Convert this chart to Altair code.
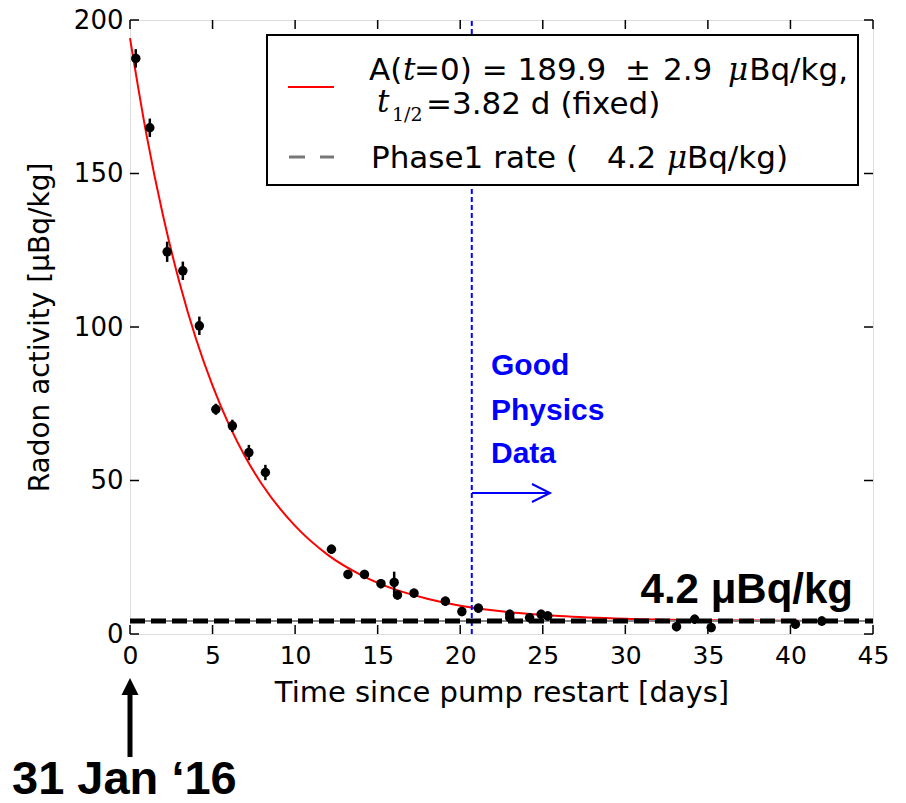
import altair as alt
import pandas as pd

# ---- data ----
days = [0.35, 1.2, 2.25, 3.2, 4.2, 5.2, 6.2, 7.2, 8.2, 12.2, 13.2, 14.2, 15.2, 16.0, 16.2,
        17.2, 19.1, 20.1, 21.1, 23.0, 23.0, 24.2, 24.9, 25.3, 33.1, 34.2, 35.2, 40.3, 41.9]
activity = [187.5, 164.9, 124.5, 118.3, 100.4, 73.2, 67.8, 59.1, 52.6, 27.6, 19.4, 19.4, 16.4, 16.8, 12.7,
            13.3, 10.7, 7.3, 8.4, 6.4, 5.3, 5.3, 6.4, 5.9, 2.4, 4.8, 2.1, 3.2, 4.2]
errors = [3.0, 3.0, 3.3, 3.0, 3.0, 1.8, 2.0, 2.5, 2.5, 1.5, 1.5, 1.5, 1.5, 3.5, 1.5,
          1.5, 1.5, 1.5, 1.5, 1.5, 1.5, 1.5, 1.5, 1.5, 1.5, 1.5, 1.5, 1.5, 1.5]

# fit curve
curve_t = [0, 1, 2, 3, 4, 5, 6, 7, 8, 10, 12, 14, 16, 18, 20, 23, 26, 30, 35, 40, 45]
curve_a = [194.1, 162.6, 136.3, 114.4, 96.1, 80.9, 68.1, 57.5, 48.7, 35.2, 25.7, 19.2, 14.6,
           11.5, 9.2, 7.1, 5.9, 5.0, 4.5, 4.3, 4.2]

x_ticks = [0, 5, 10, 15, 20, 25, 30, 35, 40, 45]
y_ticks = [0, 50, 100, 150, 200]
x_range = [0, 45]
phase1_rate = 4.2
good_start = 20.7

y_title = "Radon activity [μBq/kg]"
x_title = "Time since pump restart [days]"

# ---- chart ----
W, H = 743, 614
xs = alt.Scale(domain=x_range, nice=False, zero=False)
ys = alt.Scale(domain=[0, 200], nice=False)
FONT = "DejaVu Sans"
BOLD = "Liberation Sans"

pts = pd.DataFrame({"t": days, "a": activity,
                    "lo": [a - e for a, e in zip(activity, errors)],
                    "hi": [a + e for a, e in zip(activity, errors)]})
curve = pd.DataFrame({"t": curve_t, "a": curve_a})
hline = pd.DataFrame({"t": [x_range[0]], "t2": [x_range[1]], "a": [phase1_rate]})
vline = pd.DataFrame({"t": [good_start], "a": [0], "a2": [200]})
xt = pd.DataFrame({"t": x_ticks})
yt = pd.DataFrame({"a": y_ticks})
one = pd.DataFrame({"k": [0]})
zero = pd.DataFrame({"t": [0]})

xaxis = alt.Axis(values=x_ticks, ticks=False, domain=False, grid=False, labelFont=FONT,
                 labelFontSize=25, labelColor="black", labelPadding=9, labelFlush=False,
                 labelOverlap=False,
                 title=x_title, titleFont=FONT, titleFontSize=29, titleFontWeight="normal",
                 titleColor="black", titleBaseline="alphabetic", titleY=67)
yaxis = alt.Axis(values=y_ticks, ticks=False, domain=False, grid=False, labelFont=FONT,
                 labelFontSize=26, labelColor="black", labelPadding=7, labelFlush=False,
                 labelOverlap=False,
                 title=y_title, titleFont=FONT, titleFontSize=28, titleFontWeight="normal",
                 titleColor="black", titleX=-90, titleY=307, titleBaseline="middle",
                 titleAlign="center", titleAngle=270)

curve_layer = alt.Chart(curve).mark_line(color="red", strokeWidth=2, interpolate="monotone").encode(
    x=alt.X("t:Q", scale=xs, axis=xaxis), y=alt.Y("a:Q", scale=ys, axis=yaxis))

vline_layer = alt.Chart(vline).mark_rule(color="blue", strokeWidth=2, strokeDash=[5, 3]).encode(
    x=alt.X("t:Q", scale=xs), y=alt.Y("a:Q", scale=ys), y2="a2:Q")

hline_gray = alt.Chart(hline).mark_rule(color="#888888", strokeWidth=2).encode(
    x=alt.X("t:Q", scale=xs), x2="t2:Q", y=alt.Y("a:Q", scale=ys))
hline_black = alt.Chart(hline).mark_rule(color="black", strokeWidth=5, strokeDash=[15, 6]).encode(
    x=alt.X("t:Q", scale=xs), x2="t2:Q", y=alt.Y("a:Q", scale=ys))

err_layer = alt.Chart(pts).mark_rule(color="black", strokeWidth=2.5).encode(
    x=alt.X("t:Q", scale=xs), y=alt.Y("lo:Q", scale=ys), y2="hi:Q")
pt_layer = alt.Chart(pts).mark_circle(color="black", size=90, opacity=1).encode(
    x=alt.X("t:Q", scale=xs), y=alt.Y("a:Q", scale=ys))

TL = 9
tick_bottom = alt.Chart(xt).mark_rule(color="black", strokeWidth=1.5).encode(
    x=alt.X("t:Q", scale=xs), y=alt.value(H), y2=alt.value(H - TL))
tick_top = alt.Chart(xt).mark_rule(color="black", strokeWidth=1.5).encode(
    x=alt.X("t:Q", scale=xs), y=alt.value(0), y2=alt.value(TL))
tick_left = alt.Chart(yt).mark_rule(color="black", strokeWidth=1.5).encode(
    y=alt.Y("a:Q", scale=ys), x=alt.value(0), x2=alt.value(TL))
tick_right = alt.Chart(yt).mark_rule(color="black", strokeWidth=1.5).encode(
    y=alt.Y("a:Q", scale=ys), x=alt.value(W), x2=alt.value(W - TL))


def txt(s, x, y, size, font=FONT, weight="normal", color="black", align="left",
        baseline="alphabetic", style="normal"):
    return alt.Chart(one).mark_text(text=s, font=font, fontSize=size, fontWeight=weight,
                                    color=color, align=align, baseline=baseline,
                                    fontStyle=style).encode(x=alt.value(x), y=alt.value(y))


def seg(x1, x2, y1, y2, color, width, dash=None):
    kw = dict(color=color, strokeWidth=width)
    if dash:
        kw["strokeDash"] = dash
    return alt.Chart(one).mark_rule(**kw).encode(
        x=alt.value(x1), x2=alt.value(x2), y=alt.value(y1), y2=alt.value(y2))


# legend box (pixel positions relative to the plot area)
LF = 31
legend_box = alt.Chart(one).mark_rect(fill="white", stroke="black", strokeWidth=2).encode(
    x=alt.value(137), x2=alt.value(728), y=alt.value(15), y2=alt.value(165))
leg_red = seg(158, 204, 67, 67, "red", 2)
leg_g1 = seg(159, 175, 137, 137, "#777777", 3)
leg_g2 = seg(190, 204, 137, 137, "#777777", 3)
leg_1a = txt("A(", 239, 60, LF)
leg_1b = txt("t", 273, 60, LF, font="DejaVu Serif", style="italic")
leg_1c = txt("=0) = 189.9", 284, 60, LF)
leg_1d = txt("±", 508, 60, LF, align="center")
leg_1e = txt("2.9", 533, 60, LF)
leg_1f = txt("μ", 598, 60, LF, font="DejaVu Serif", style="italic")
leg_1g = txt("Bq/kg,", 718, 60, LF, align="right")
leg_2a = txt("t", 247, 92, LF, font="DejaVu Serif", style="italic")
leg_2b = txt("1/2", 262, 101, 19, font="DejaVu Serif")
leg_2c = txt("=3.82 d (fixed)", 296, 94, LF)
leg_3a = txt("Phase1 rate (", 241, 148, LF)
leg_3b = txt("4.2", 477, 148, LF)
leg_3c = txt("μ", 537, 148, LF, font="DejaVu Serif", style="italic")
leg_3d = txt("Bq/kg)", 658, 148, LF, align="right")

# annotations
GF = 30
good1 = txt("Good", 361, 355, GF, font=BOLD, weight="bold", color="blue")
good2 = txt("Physics", 361, 400, GF, font=BOLD, weight="bold", color="blue")
good3 = txt("Data", 361, 443, GF, font=BOLD, weight="bold", color="blue")
b_shaft = seg(342, 419, 473, 473, "blue", 2)
b_head = alt.Chart(one).mark_point(shape="M-1,-1L1,0L-1,1", size=324, filled=False,
                                   stroke="blue", strokeWidth=2, opacity=1).encode(
    x=alt.value(411), y=alt.value(473))
rate_txt = txt("4.2 μBq/kg", 723, 583, 42, font=BOLD, weight="bold", align="right")

date_shaft = alt.Chart(zero).mark_rule(color="black", strokeWidth=5).encode(
    x=alt.X("t:Q", scale=xs), y=alt.value(670), y2=alt.value(737))
date_head = alt.Chart(zero).mark_point(shape="M0,-1L1,1L-1,1Z", size=289, filled=True,
                                       color="black", opacity=1).encode(
    x=alt.X("t:Q", scale=xs), y=alt.value(666.5))
date_txt = txt("31 Jan ‘16", -118, 774, 47, font=BOLD, weight="bold")

chart = alt.layer(
    curve_layer, vline_layer, hline_gray, hline_black, err_layer, pt_layer,
    tick_bottom, tick_top, tick_left, tick_right,
    legend_box, leg_red, leg_g1, leg_g2,
    leg_1a, leg_1b, leg_1c, leg_1d, leg_1e, leg_1f, leg_1g,
    leg_2a, leg_2b, leg_2c, leg_3a, leg_3b, leg_3c, leg_3d,
    good1, good2, good3, b_shaft, b_head, rate_txt,
    date_shaft, date_head, date_txt,
).properties(
    width=W, height=H, autosize="none",
    padding={"left": 122, "top": 12, "right": 25, "bottom": 161},
).configure_view(stroke="black", strokeWidth=2).configure(background="white")

chart.save("out.html", embed_options={"renderer": "svg", "actions": False})
